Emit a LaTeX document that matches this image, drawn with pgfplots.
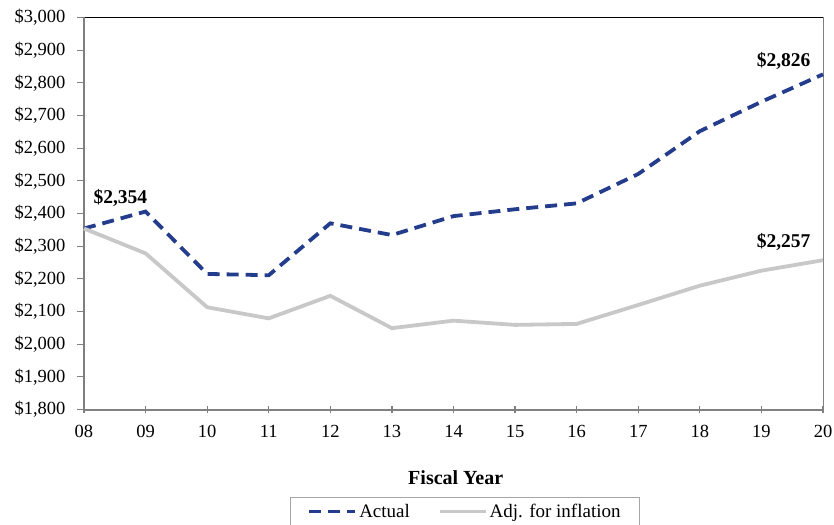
\documentclass[border=0pt]{standalone}
\usepackage{pgfplots}
\pgfplotsset{compat=1.18}
\usepackage{fontspec}
\setmainfont{Liberation Serif}
\definecolor{navy}{HTML}{233C8C}
\definecolor{lgray}{HTML}{C8C8C8}
\definecolor{axgray}{HTML}{808080}
\begin{document}
\begin{tikzpicture}[x=1bp,y=1bp]
\begin{axis}[
  scale only axis, width=739bp, height=392bp,
  xmin=8, xmax=20, ymin=1800, ymax=3000,
  font=\fontsize{18bp}{21bp}\selectfont,
  axis line style={draw=none},
  xtick={8,...,20},
  xticklabels={08,09,10,11,12,13,14,15,16,17,18,19,20},
  ytick={1800,1900,...,3000},
  yticklabels={{\$1,800},{\$1,900},{\$2,000},{\$2,100},{\$2,200},{\$2,300},{\$2,400},{\$2,500},{\$2,600},{\$2,700},{\$2,800},{\$2,900},{\$3,000}},
  major tick length=7bp,
  x tick style={draw=axgray, line width=1.2bp},
  y tick style={draw=axgray, line width=1.2bp},
  xtick align=center, ytick align=outside,
  xtick pos=bottom, ytick pos=left,
  xticklabel style={yshift=-9bp, font=\fontsize{18.5bp}{21bp}\selectfont},
  yticklabel style={xshift=-8bp, font=\fontsize{18.5bp}{21bp}\selectfont},
  xlabel={\textbf{Fiscal Year}},
  xlabel style={at={(axis description cs:0.503,-0.1735)}, anchor=center, font=\fontsize{20bp}{23bp}\selectfont},
  legend columns=2,
  legend style={at={(axis description cs:0.5156,-0.222)}, anchor=north,
    draw=axgray!70, line width=1bp, inner xsep=17bp, inner ysep=5bp,
    font=\fontsize{19bp}{22bp}\selectfont,
    /tikz/every even column/.append style={column sep=26bp}},
  legend image code/.code={\draw[#1] (0bp,0bp) -- (46bp,0bp);},
  clip=false,
]
\draw[axgray, line width=1bp] (rel axis cs:1,0) -- (rel axis cs:1,1);
\draw[black, line width=0.9bp] (rel axis cs:0,1) -- (rel axis cs:1,1);
\draw[axgray, line width=2bp] (rel axis cs:0,0) -- (rel axis cs:0,1);
\draw[axgray, line width=2bp] (rel axis cs:0,0) -- (rel axis cs:1,0);
\addplot[navy, line width=3.8bp, dash pattern=on 12bp off 7bp] coordinates {
 (8,2354) (9,2406) (10,2215) (11,2211) (12,2370) (13,2334) (14,2392) (15,2413) (16,2431) (17,2521) (18,2652) (19,2742) (20,2826)};
\addlegendentry{Actual}
\addplot[lgray, line width=3.8bp] coordinates {
 (8,2354) (9,2278) (10,2113) (11,2079) (12,2148) (13,2049) (14,2072) (15,2059) (16,2062) (17,2120) (18,2179) (19,2225) (20,2257)};
\addlegendentry{Adj. for inflation}
\node[anchor=west, font=\fontsize{19.5bp}{22bp}\selectfont\bfseries, xshift=6bp] at (axis cs:8,2447) {\$2,354};
\node[anchor=east, font=\fontsize{19.5bp}{22bp}\selectfont\bfseries, xshift=-9bp] at (axis cs:20,2867) {\$2,826};
\node[anchor=east, font=\fontsize{19.5bp}{22bp}\selectfont\bfseries, xshift=-9bp] at (axis cs:20,2314) {\$2,257};
\coordinate (bl) at (rel axis cs:0,0);
\coordinate (tr) at (rel axis cs:1,1);
\end{axis}
\pgfresetboundingbox
\useasboundingbox ([xshift=-84bp,yshift=-115bp]bl) rectangle ([xshift=11bp,yshift=17.5bp]tr);
\end{tikzpicture}
\end{document}
